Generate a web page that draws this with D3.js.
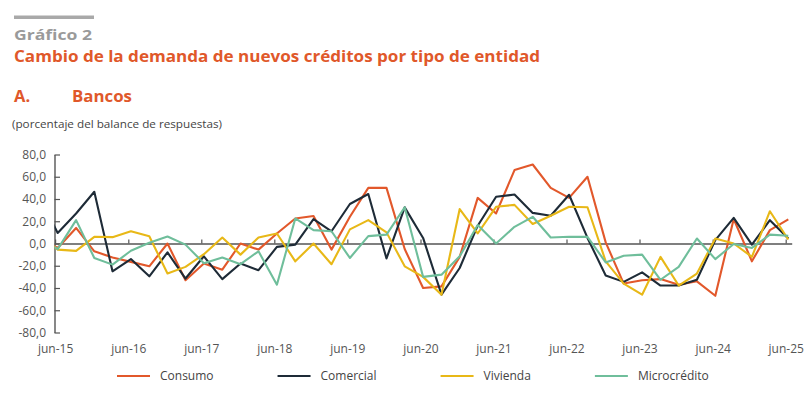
<!DOCTYPE html>
<html>
<head>
<meta charset="utf-8">
<script src="https://cdn.jsdelivr.net/npm/d3@7"></script>
<style>
  html, body { margin: 0; padding: 0; background: #fff; }
  svg { display: block; font-family: "Open Sans", "Noto Sans", sans-serif; }
</style>
</head>
<body>
<svg id="chart" width="811" height="400"></svg>
<script>
// ---------- DATA ----------
const periods = [
  "mar-15","jun-15","sep-15","dic-15","mar-16","jun-16","sep-16","dic-16",
  "mar-17","jun-17","sep-17","dic-17","mar-18","jun-18","sep-18","dic-18",
  "mar-19","jun-19","sep-19","dic-19","mar-20","jun-20","sep-20","dic-20",
  "mar-21","jun-21","sep-21","dic-21","mar-22","jun-22","sep-22","dic-22",
  "mar-23","jun-23","sep-23","dic-23","mar-24","jun-24","sep-24","dic-24",
  "mar-25","jun-25"
];
const consumo = [
  5, -4, 14, -7, -12.5, -16.5, -20.5, 0, -33, -18, -23.5, 0, -5.5, 9, 22.5, 24.7,
  -5.5, 24, 50, 50, -5, -40, -38.5, -12, 41, 27, 66, 71, 50, 41, 60, 1,
  -36, -33, -32, -37, -34, -47, 22, -16, 12, 21.7
];
const comercial = [
  42, 9.5, 27, 46.5, -25, -14, -29.5, -8, -31.5, -11.5, -32, -18, -24, -3, -1, 22,
  11, 35.5, 44.5, -13.5, 32.5, 5, -46, -22, 16, 42, 44, 27.5, 25, 43.8, 5, -28.7,
  -34.5, -26, -37.8, -37.8, -32.6, 3, 23, -1, 21, 4.5
];
const vivienda = [
  8, -5.5, -6.6, 6, 5.7, 11, 6.5, -27, -21, -9.6, 5.4, -10, 5.4, 9, -16, 0,
  -18.6, 12.7, 21, 10, -20.5, -30, -46, 31, 9, 33, 34.7, 17.5, 25, 33, 32.6, -16,
  -36, -46, -12, -37.8, -27, 4.5, 0, -12, 29, 3.6
];
const microcredito = [
  5, -5, 21, -13, -19, -6.5, 0.6, 6.3, -1, -17.8, -12.6, -18.6, -7, -37, 22.5, 12,
  11, -13, 6.6, 8, 32.6, -30, -28, -11.5, 16.6, 0, 15, 24, 5.4, 6, 6, -17,
  -11, -10, -32.6, -21, 4.5, -14, -0.5, -4, 8, 7
];
const seriesNames = ["Consumo", "Comercial", "Vivienda", "Microcrédito"];
const seriesValues = [consumo, comercial, vivienda, microcredito];
const yTicks = [80, 60, 40, 20, 0, -20, -40, -60, -80];
const xTickLabels = ["jun-15","jun-16","jun-17","jun-18","jun-19","jun-20","jun-21","jun-22","jun-23","jun-24","jun-25"];

// ---------- STYLE / LAYOUT ----------
const colors = ["#E2582B", "#1E2B37", "#E8B817", "#6FBE9B"];
const axisColor = "#555555";
const textColor = "#555555";
const plotLeft = 54.5, plotRight = 791.7, plotTop = 154.5, plotBottom = 332.5;

const monthIdx = {ene:0,feb:1,mar:2,abr:3,may:4,jun:5,jul:6,ago:7,sep:8,oct:9,nov:10,dic:11};
function toDate(label, day) {
  const [m, yy] = label.split("-");
  return new Date(2000 + (+yy), monthIdx[m], day);
}

const svg = d3.select("#chart");

const x = d3.scaleTime()
  .domain([new Date(2015, 4, 29), new Date(2025, 6, 1)])
  .range([plotLeft, plotRight]);
const y = d3.scaleLinear().domain([-80, 80]).range([plotBottom, plotTop]);

const locale = d3.formatLocale({decimal: ",", thousands: ".", grouping: [3], currency: ["", ""], minus: "-"});
const fmt = locale.format(".1f");

// ---------- HEADER ----------
svg.append("rect").attr("x", 14).attr("y", 15.5).attr("width", 80).attr("height", 3.5).attr("fill", "#a9a9a9");
svg.append("text").attr("x", 14).attr("y", 40).text("Gráfico 2")
  .attr("font-size", 15).attr("font-weight", 700).attr("fill", "#9a9a9a")
  .attr("textLength", 78).attr("lengthAdjust", "spacingAndGlyphs");
svg.append("text").attr("x", 14).attr("y", 61.5).text("Cambio de la demanda de nuevos créditos por tipo de entidad")
  .attr("font-size", 16).attr("font-weight", 700).attr("fill", "#E0582A")
  .attr("textLength", 526).attr("lengthAdjust", "spacingAndGlyphs");
svg.append("text").attr("x", 14).attr("y", 101.5).text("A.")
  .attr("font-size", 16.5).attr("font-weight", 700).attr("fill", "#E0582A");
svg.append("text").attr("x", 72).attr("y", 101.5).text("Bancos")
  .attr("font-size", 16.5).attr("font-weight", 700).attr("fill", "#E0582A")
  .attr("textLength", 60).attr("lengthAdjust", "spacingAndGlyphs");
svg.append("text").attr("x", 12).attr("y", 128).text("(porcentaje del balance de respuestas)")
  .attr("font-size", 11).attr("fill", "#444")
  .attr("textLength", 210).attr("lengthAdjust", "spacingAndGlyphs");

// ---------- AXES ----------
const yAxis = d3.axisLeft(y).tickValues(yTicks).tickFormat(fmt).tickSizeInner(-5.5).tickSizeOuter(0).tickPadding(8.5);
const gy = svg.append("g").attr("transform", `translate(${plotLeft},0)`).call(yAxis);
gy.selectAll("path.domain").attr("stroke", axisColor).attr("stroke-width", 1.4);
gy.selectAll(".tick line").attr("stroke", axisColor).attr("stroke-width", 1.2);
gy.selectAll(".tick text").attr("font-size", 12).attr("fill", textColor).attr("font-family", '"Open Sans", sans-serif');

const tickDates = xTickLabels.map(l => toDate(l, 1));
const xAxisZero = d3.axisBottom(x).tickValues(tickDates).tickFormat("").tickSizeInner(-4).tickSizeOuter(0);
const gx0 = svg.append("g").attr("transform", `translate(0,${y(0)})`).call(xAxisZero);
gx0.selectAll("path.domain").attr("stroke", axisColor).attr("stroke-width", 1.4);
gx0.selectAll(".tick line").attr("stroke", axisColor).attr("stroke-width", 1.2);

const xAxisLabels = d3.axisBottom(x).tickValues(tickDates).tickFormat((d, i) => xTickLabels[i]).tickSize(0).tickPadding(12);
const gxl = svg.append("g").attr("transform", `translate(0,${plotBottom})`).call(xAxisLabels);
gxl.select("path.domain").remove();
gxl.selectAll(".tick text").attr("font-size", 12).attr("fill", textColor).attr("font-family", '"Open Sans", sans-serif');

// ---------- LINES ----------
svg.append("clipPath").attr("id", "plotclip")
  .append("rect").attr("x", plotLeft).attr("y", 0).attr("width", plotRight - plotLeft + 2).attr("height", 400);

const line = d3.line()
  .x((d, i) => x(toDate(periods[i], 14)))
  .y(d => y(d));

const gLines = svg.append("g").attr("clip-path", "url(#plotclip)");
seriesValues.forEach((vals, s) => {
  gLines.append("path")
    .attr("d", line(vals))
    .attr("fill", "none")
    .attr("stroke", colors[s])
    .attr("stroke-width", 2.1)
    .attr("stroke-linejoin", "round");
});

// ---------- LEGEND ----------
const legend = svg.append("g");
let lx = 117;
const ly = 376;
seriesNames.forEach((name, s) => {
  legend.append("line").attr("x1", lx).attr("x2", lx + 33).attr("y1", ly).attr("y2", ly)
    .attr("stroke", colors[s]).attr("stroke-width", 2);
  const t = legend.append("text").attr("x", lx + 43).attr("y", ly + 4.3).text(name)
    .attr("font-size", 12).attr("fill", "#444");
  const w = t.node().getComputedTextLength();
  lx = lx + 43 + w + 64;
});
</script>
</body>
</html>
